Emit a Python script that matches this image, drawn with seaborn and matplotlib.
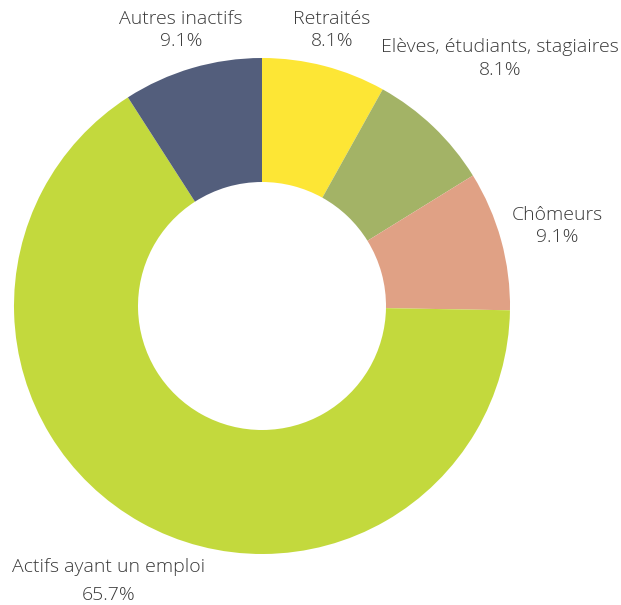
import matplotlib
matplotlib.use("Agg")
import matplotlib.pyplot as plt
import seaborn as sns

# Données (sens horaire depuis le haut)
categories = ["Retraités", "Elèves, étudiants, stagiaires", "Chômeurs",
              "Actifs ayant un emploi", "Autres inactifs"]
parts = [8.1, 8.1, 9.1, 65.7, 9.1]
couleurs = ["#FDE635", "#A3B366", "#E0A185", "#C3D93D", "#535E7C"]

sns.set_theme(style="white")
plt.rcParams['font.family'] = ['Open Sans', 'DejaVu Sans']

fig = plt.figure(figsize=(6.21, 6.05), dpi=100)
ax = fig.add_axes([14 / 621, 51 / 605, 496 / 621, 496 / 605])

ax.pie(parts, colors=sns.color_palette(couleurs), startangle=90,
       counterclock=False, radius=1.0,
       wedgeprops=dict(width=0.5, linewidth=0))

# Positions des étiquettes (coordonnées des données) et interlignes
positions = [(0.282, 1.113), (0.96, 1.0), (1.19, 0.323),
             (-0.62, -1.11), (-0.327, 1.113)]
interlignes = [1.3, 1.35, 1.25, 1.7, 1.3]
for cat, val, (x, y), ls in zip(categories, parts, positions, interlignes):
    ax.text(x, y, f"{cat}\n{val:.1f}%", ha="center", va="center",
            fontsize=14, color="#3a3a3a", linespacing=ls,
            fontweight="light", clip_on=False)

ax.set_xlim(-1, 1)
ax.set_ylim(-1, 1)
ax.set_aspect("equal")
ax.axis("off")

fig.savefig("out.png", dpi=100)
